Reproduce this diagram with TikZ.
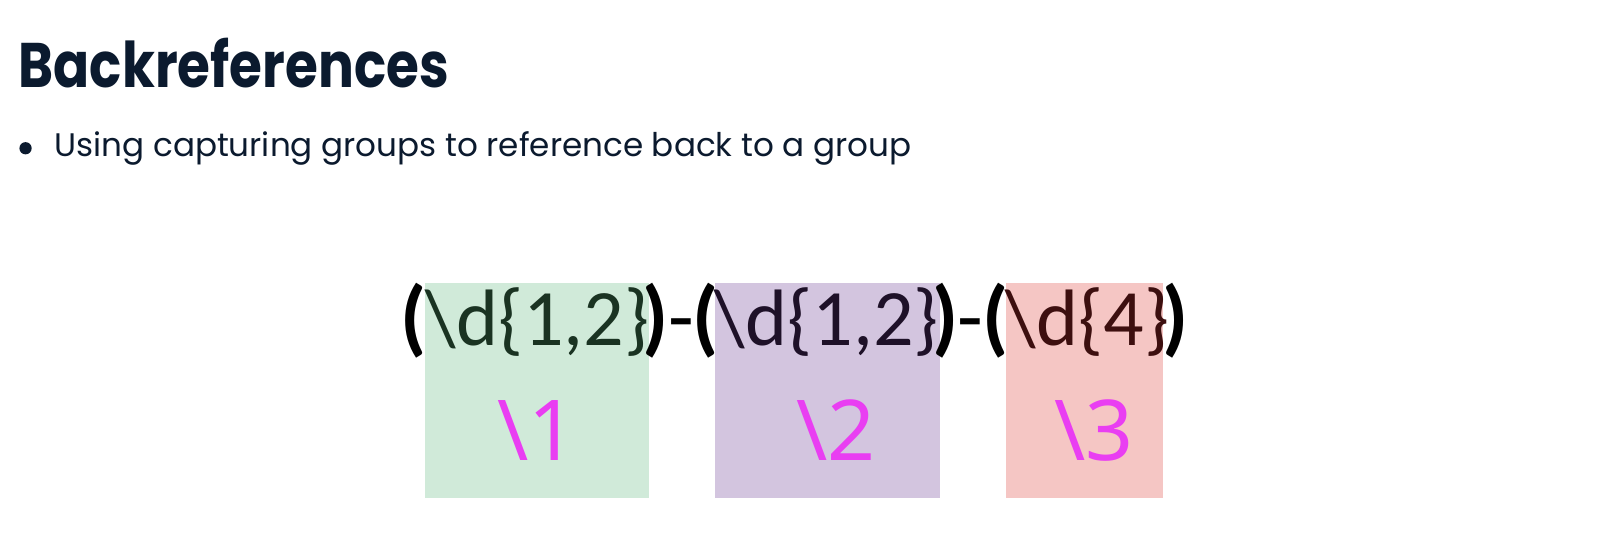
\documentclass[tikz,border=0pt]{standalone}
\usepackage{fontspec}
\setmainfont{Poppins}
\newfontfamily\rx{Carlito}
\newfontfamily\lblfont{Noto Sans}
\definecolor{titlec}{HTML}{0B1A2E}
\definecolor{gbox}{HTML}{D0EAD9}
\definecolor{pbox}{HTML}{D3C5DF}
\definecolor{rbox}{HTML}{F5C6C4}
\definecolor{gtxt}{HTML}{1A3322}
\definecolor{ptxt}{HTML}{1E1128}
\definecolor{rtxt}{HTML}{3D0F0F}
\definecolor{mag}{HTML}{E93EF2}
\begin{document}
\begin{tikzpicture}[x=0.51118pt,y=-0.51118pt,
  grp/.style={inner sep=0pt, outer sep=0pt, font=\rx\fontsize{40}{40}\selectfont, anchor=base west},
  par/.style={inner sep=0pt, outer sep=0pt, font=\rx\bfseries\fontsize{42}{42}\selectfont, text=black},
  junc/.style={inner sep=0pt, outer sep=0pt, font=\rx\fontsize{42}{42}\selectfont, text=black, anchor=base},
  lbl/.style={inner sep=0pt, font=\lblfont\fontsize{42}{42}\selectfont, text=mag, anchor=base west}]
\useasboundingbox (0,0) rectangle (1565,532.1);
\fill[white] (0,0) rectangle (1565,532.1);
% title
\node[anchor=base west, inner sep=0pt, text=titlec, font=\bfseries\fontsize{31.5}{31.5}\selectfont, xscale=0.845] (title) at (18,86) {Backreferences};
\fill[titlec] (25,145) circle (6) coordinate (bullet);
\node[anchor=base west, inner sep=0pt, text=titlec, font=\fontsize{16.3}{16.3}\selectfont] (bul) at (53,153) {Using capturing groups to reference back to a group};
% boxes
\fill[gbox] (416,277) rectangle (635,487);
\fill[pbox] (699,277) rectangle (919,487);
\fill[rbox] (983.5,277) rectangle (1137.5,487);
% regex
\node[par, anchor=base east] (p1) at (417,337.5) {(};
\node[grp, text=gtxt] (t1) at (416,337.5) {\textbackslash d\{1,2\}};
\node[junc] (j1) at (666,337.5) {{\bfseries)}\kern-0.5pt-\kern-0.5pt{\bfseries(}};
\node[grp, text=ptxt] (t2) at (699,337.5) {\textbackslash d\{1,2\}};
\node[junc] (j2) at (949.5,337.5) {{\bfseries)}\kern-0.5pt-\kern-0.5pt{\bfseries(}};
\node[grp, text=rtxt] (t3) at (983.5,337.5) {\textbackslash d\{4\}};
\node[par, anchor=base west] (p4) at (1137,337.5) {)};
% labels
\node[lbl] (l1) at (486,450) {\textbackslash 1};
\node[lbl] (l2) at (778.5,450) {\textbackslash 2};
\node[lbl] (l3) at (1031,450) {\textbackslash 3};
\end{tikzpicture}
\end{document}
